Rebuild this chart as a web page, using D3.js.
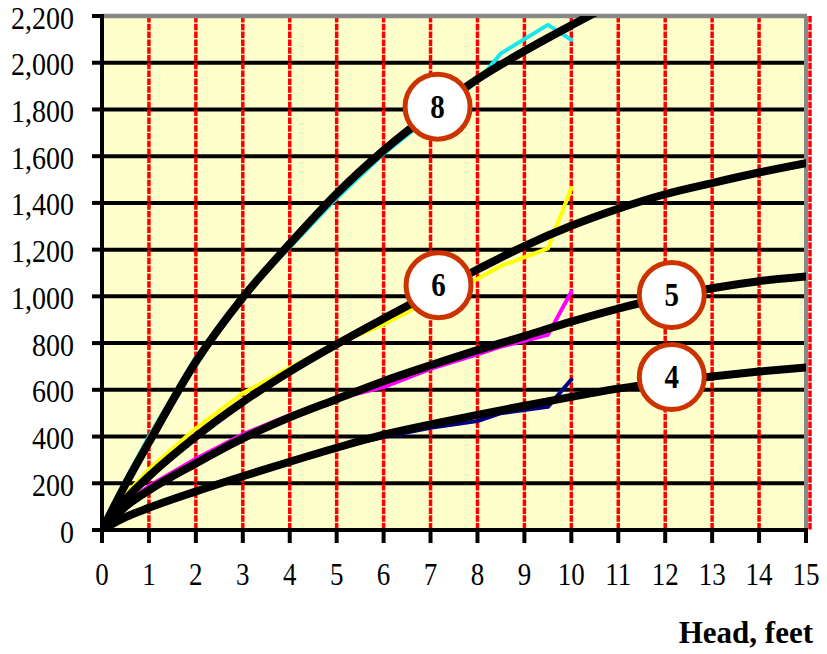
<!DOCTYPE html>
<html>
<head>
<meta charset="utf-8">
<script src="https://cdn.jsdelivr.net/npm/d3@7"></script>
<style>
  html, body { margin: 0; padding: 0; background: #ffffff; }
  svg { display: block; }
  text { font-family: "Liberation Serif", "Times New Roman", serif; fill: #000; }
</style>
</head>
<body>
<svg id="chart" width="827" height="654"></svg>
<script>
// Head (feet) at which the fitted curves are evaluated
const fitHeads = [0, 0.5, 1, 2, 3, 4, 5, 6, 7, 8, 9, 10, 11, 12, 13, 14, 15];
// Fitted flow curves, one per pipe size
const fit8 = [0, 195, 375, 720, 995, 1225, 1440, 1625, 1785, 1930, 2050, 2160, 2265, 2360, 2450, 2535, 2615];
const fit6 = [0, 130, 230, 400, 548, 678, 795, 905, 1012, 1115, 1215, 1302, 1375, 1437, 1485, 1530, 1570];
const fit5 = [0, 100, 170, 285, 392, 482, 560, 637, 705, 770, 830, 892, 948, 995, 1035, 1065, 1085];
const fit4 = [0, 55, 95, 165, 230, 292, 352, 408, 452, 493, 532, 570, 605, 633, 657, 678, 696];

// Head (feet) of the measured readings
const measHeads = [0, 0.5, 1, 2, 3, 4, 5, 6, 7, 8, 8.5, 9.5, 10];
const meas8 = [-20, 215, 400, 740, 1000, 1210, 1420, 1610, 1770, 1919, 2040, 2162, 2098];
const meas6 = [-10, 150, 260, 435, 585, 695, 795, 880, 985, 1075, 1130, 1205, 1463];
const meas5 = [0, 110, 188, 305, 410, 492, 562, 612, 690, 752, 785, 835, 1020];
const meas4 = [0, 60, 100, 172, 236, 298, 350, 398, 438, 466, 500, 527, 644];

// Axis ticks
const xTicks = d3.range(0, 16);
const yTicks = d3.range(0, 2201, 200);
const xTitle = "Head, feet";

// Circle labels: pipe size and where it sits (head, flow)
const labelNames = ["8", "6", "5", "4"];
const labelHeads = [7.15, 7.17, 12.14, 12.14];
const labelFlows = [1812, 1048, 1006, 655];

const svg = d3.select("#chart");
const plotL = 102, plotR = 806, plotT = 16, plotB = 530;

const x = d3.scaleLinear().domain([0, 15]).range([plotL, plotR]);
const y = d3.scaleLinear().domain([0, 2200]).range([plotB, plotT]);

// Plot background
svg.append("rect")
  .attr("x", plotL).attr("y", plotT)
  .attr("width", plotR - plotL).attr("height", plotB - plotT)
  .attr("fill", "#FFFFCC");

svg.append("clipPath").attr("id", "plotClip")
  .append("rect")
  .attr("x", plotL).attr("y", plotT)
  .attr("width", plotR - plotL).attr("height", plotB - plotT);

// Horizontal grid (black)
svg.append("g").selectAll("line")
  .data(yTicks.filter(v => v > 0 && v < 2200))
  .join("line")
  .attr("x1", plotL).attr("x2", plotR)
  .attr("y1", d => y(d)).attr("y2", d => y(d))
  .attr("stroke", "#000").attr("stroke-width", 4);

// Vertical grid (red dashed)
svg.append("g").selectAll("line")
  .data(xTicks.filter(v => v > 0))
  .join("line")
  .attr("x1", d => x(d) + (d === 15 ? 4 : 0)).attr("x2", d => x(d) + (d === 15 ? 4 : 0))
  .attr("y1", plotT).attr("y2", plotB)
  .attr("stroke", "#FF0000").attr("stroke-width", 3.5)
  .attr("stroke-dasharray", "6.5,1.3");

// Plot frame, top and right
svg.append("line")
  .attr("x1", plotL).attr("x2", plotR + 1)
  .attr("y1", plotT).attr("y2", plotT)
  .attr("stroke", "#888888").attr("stroke-width", 4.5);
svg.append("line")
  .attr("x1", plotR).attr("x2", plotR)
  .attr("y1", plotT).attr("y2", plotB)
  .attr("stroke", "#888888").attr("stroke-width", 4);

// Measured readings (coloured) under the fitted curves
const lineMeas = d3.line()
  .x((d, i) => x(measHeads[i]))
  .y(d => y(d));

const measured = [
  { values: meas8, color: "#19E6EE" },
  { values: meas6, color: "#FFFF00" },
  { values: meas5, color: "#FF00FF" },
  { values: meas4, color: "#000080" }
];

const curves = svg.append("g").attr("clip-path", "url(#plotClip)");

curves.selectAll("path.meas")
  .data(measured)
  .join("path")
  .attr("class", "meas")
  .attr("d", d => lineMeas(d.values))
  .attr("fill", "none")
  .attr("stroke", d => d.color)
  .attr("stroke-width", 4)
  .attr("stroke-linejoin", "round")
  .attr("stroke-linecap", "round");

// Fitted curves (black, heavy)
const lineFit = d3.line()
  .x((d, i) => x(fitHeads[i]))
  .y(d => y(d))
  .curve(d3.curveMonotoneX);

curves.selectAll("path.fit")
  .data([fit8, fit6, fit5, fit4])
  .join("path")
  .attr("class", "fit")
  .attr("d", d => lineFit(d))
  .attr("fill", "none")
  .attr("stroke", "#000")
  .attr("stroke-width", 8)
  .attr("stroke-linejoin", "round")
  .attr("stroke-linecap", "round");

// Axes
const xAxis = svg.append("g");
xAxis.append("line")
  .attr("x1", plotL - 2).attr("x2", plotR + 2)
  .attr("y1", plotB).attr("y2", plotB)
  .attr("stroke", "#000").attr("stroke-width", 4);
xAxis.selectAll("line.tick")
  .data(xTicks)
  .join("line")
  .attr("class", "tick")
  .attr("x1", d => x(d)).attr("x2", d => x(d))
  .attr("y1", plotB).attr("y2", plotB + 13)
  .attr("stroke", "#000").attr("stroke-width", 4);
xAxis.selectAll("text")
  .data(xTicks)
  .join("text")
  .attr("transform", d => `translate(${x(d)},${plotB + 55}) scale(1,1.18)`)
  .attr("text-anchor", "middle")
  .attr("font-size", 27)
  .text(d => d);

const yAxis = svg.append("g");
yAxis.append("line")
  .attr("x1", plotL).attr("x2", plotL)
  .attr("y1", plotT - 2).attr("y2", plotB + 2)
  .attr("stroke", "#000").attr("stroke-width", 4);
yAxis.selectAll("line.tick")
  .data(yTicks)
  .join("line")
  .attr("class", "tick")
  .attr("x1", plotL - 10).attr("x2", plotL)
  .attr("y1", d => y(d)).attr("y2", d => y(d))
  .attr("stroke", "#000").attr("stroke-width", 4);
const fmt = d3.format(",");
yAxis.selectAll("text")
  .data(yTicks)
  .join("text")
  .attr("transform", d => `translate(${plotL - 28},${y(d) + 12.5}) scale(1,1.12)`)
  .attr("text-anchor", "end")
  .attr("font-size", 28)
  .text(d => fmt(d));

// Axis title
svg.append("text")
  .attr("x", 813).attr("y", 643)
  .attr("text-anchor", "end")
  .attr("font-size", 31)
  .attr("font-weight", "bold")
  .text(xTitle);

// Circle labels
const labels = svg.append("g").selectAll("g")
  .data(labelNames.map((n, i) => ({ name: n, h: labelHeads[i], q: labelFlows[i] })))
  .join("g")
  .attr("transform", d => `translate(${x(d.h)},${y(d.q)})`);
labels.append("circle")
  .attr("r", 32.5)
  .attr("fill", "#ffffff")
  .attr("stroke", "#CC3300")
  .attr("stroke-width", 5);
labels.append("text")
  .attr("transform", "translate(0,11) scale(1,1.15)")
  .attr("text-anchor", "middle")
  .attr("font-size", 29)
  .attr("font-weight", "bold")
  .text(d => d.name);
</script>
</body>
</html>
